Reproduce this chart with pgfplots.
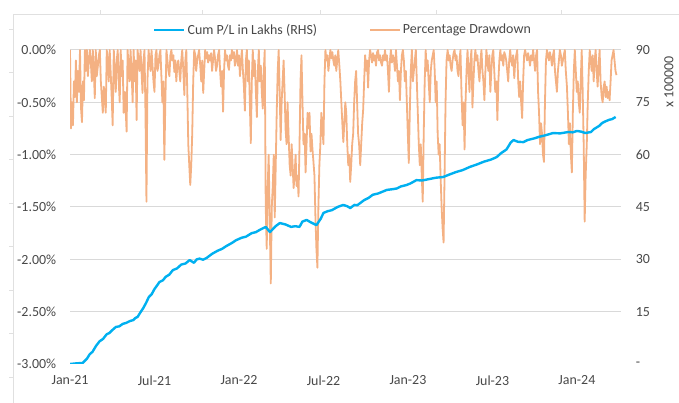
\documentclass[border=0pt]{standalone}
\usepackage{fontspec}
\setmainfont{Carlito}
\usepackage{pgfplots}
\pgfplotsset{compat=1.18}
\definecolor{ddorange}{HTML}{F4B183}
\definecolor{plblue}{HTML}{00B0F0}
\definecolor{gridgray}{HTML}{D9D9D9}
\definecolor{txt}{HTML}{484848}
\begin{document}
\fontsize{14}{16}\selectfont
\begin{tikzpicture}
\useasboundingbox (0,0) rectangle (679bp,403bp);
\draw[black!12, line width=0.8bp] (13bp,0) -- (13bp,389bp) -- (679bp,389bp);
\foreach \x in {100,202,320,436,561} \draw[black!12,line width=0.8bp] (\x bp,389bp) -- (\x bp,393bp);
\foreach \y in {26,70,113,157,200,244,287,331,374} \draw[black!12,line width=0.8bp] (13bp,\y bp) -- (9bp,\y bp);
\begin{axis}[
  at={(70bp,39bp)}, anchor=south west,
  width=551bp, height=314bp, scale only axis,
  xmin=0, xmax=39.13, ymin=-3, ymax=0,
  axis line style={draw=none},
  major tick length=0pt,
  ytick={-2.5,-2,-1.5,-1,-0.5,0},
  yticklabels={-2.50\%,-2.00\%,-1.50\%,-1.00\%,-0.50\%,0.00\%},
  extra y ticks={-3}, extra y tick labels={-3.00\%},
  extra y tick style={grid=none},
  ymajorgrids, grid style={gridgray, line width=1bp},
  xtick={0,6,12,18,24,30,36},
  xticklabels={Jan-21,Jul-21,Jan-22,Jul-22,Jan-23,Jul-23,Jan-24},
  tick label style={text=txt},
  yticklabel style={xshift=-9bp},
  xticklabel style={yshift=-7bp},
]
\addplot[ddorange, line width=1.8bp, line join=round] table {
0 0
0.07 -0.75
0.14 -0.5
0.21 -0.72
0.28 -0.3
0.35 -0.45
0.42 -0.1
0.49 -0.5
0.56 -0.2
0.64 -0.4
0.71 0
0.78 -0.55
0.85 -0.69
0.92 -0.3
0.99 -0.48
1.06 0
1.13 -0.2
1.20 0
1.27 -0.25
1.34 -0.1
1.41 0
1.48 -0.12
1.55 -0.3
1.62 0
1.69 -0.2
1.76 -0.46
1.83 0
1.90 -0.25
1.98 -0.15
2.05 -0.05
2.12 0
2.19 -0.3
2.33 -0.6
2.40 -0.35
2.54 -0.6
2.61 0
2.68 -0.1
2.75 -0.3
2.82 0
2.90 -0.25
2.96 -0.45
3.03 -0.72
3.11 0
3.18 -0.2
3.25 -0.4
3.32 -0.1
3.39 0
3.46 -0.3
3.53 -0.5
3.60 0
3.67 -0.25
3.74 -0.1
3.81 -0.6
3.90 -0.4
4.02 -0.78
4.09 0
4.16 -0.15
4.23 -0.3
4.30 0
4.37 -0.2
4.45 -0.5
4.52 0
4.59 -0.3
4.66 -0.1
4.73 -0.67
4.80 0
4.87 -0.1
4.94 -0.2
5.01 0
5.08 -0.2
5.15 -0.41
5.22 -0.1
5.29 0
5.36 -0.6
5.43 -1.45
5.50 -0.3
5.58 0
5.65 -0.1
5.72 -0.2
5.79 0
5.86 -0.15
5.93 -0.3
6.00 -0.4
6.07 -0.05
6.14 0
6.21 -0.2
6.28 -0.15
6.35 -0.05
6.42 0
6.49 -0.25
6.56 -0.5
6.63 -0.3
6.70 -1.05
6.77 -0.5
6.85 0
6.92 -0.1
6.99 -0.2
7.06 -0.25
7.13 -0.05
7.20 0
7.27 -0.1
7.34 -0.05
7.41 -0.21
7.48 -0.1
7.55 -0.3
7.62 -0.15
7.69 -0.1
7.76 -0.2
7.83 -0.3
7.90 -0.1
7.97 0
8.05 -0.2
8.12 -0.43
8.19 -0.1
8.26 0
8.33 -0.4
8.40 -0.9
8.47 -1.1
8.54 -1.29
8.61 -1.1
8.68 -0.8
8.75 -0.3
8.82 0
8.90 -0.05
8.96 -0.2
9.03 -0.1
9.10 -0.05
9.17 0
9.25 -0.15
9.32 -0.3
9.39 -0.1
9.46 -0.41
9.53 -0.2
9.60 0
9.67 -0.08
9.74 -0.02
9.81 -0.12
9.88 -0.05
9.95 -0.1
10.02 -0.03
10.09 -0.2
10.16 -0.1
10.23 0
10.30 -0.08
10.37 -0.2
10.44 -0.15
10.51 -0.05
10.59 0
10.66 -0.2
10.73 -0.35
10.80 -0.2
10.87 -0.59
10.94 -0.2
11.01 0
11.08 -0.1
11.15 -0.05
11.22 -0.15
11.29 -0.19
11.36 -0.05
11.43 -0.1
11.50 0
11.57 -0.08
11.64 -0.02
11.71 -0.15
11.78 -0.1
11.86 0
11.93 -0.15
12.00 -0.05
12.07 -0.25
12.14 -0.1
12.21 0
12.28 -0.2
12.35 -0.35
12.42 -0.58
12.49 -0.1
12.56 0
12.63 -0.3
12.70 -0.1
12.77 -0.5
12.84 -0.89
12.91 -0.3
12.98 0
13.05 -0.25
13.12 -0.1
13.20 -0.4
13.27 -0.64
13.34 -0.2
13.41 0
13.48 -0.3
13.55 -0.15
13.62 -0.4
13.69 -0.56
13.76 -0.2
13.83 0
13.90 -1.5
13.97 -1.9
14.04 -1.3
14.11 -1.0
14.18 -1.6
14.26 -2.23
14.33 -1.5
14.40 -1.3
14.47 -1.0
14.54 -1.6
14.61 -1.1
14.68 -0.6
14.75 -0.2
14.82 0
14.89 -0.4
14.96 -0.86
15.03 -0.5
15.10 -0.3
15.17 -0.1
15.24 -0.4
15.31 -0.76
15.38 -0.9
15.45 -0.5
15.52 -0.8
15.60 -1.1
15.67 -1.2
15.74 -0.9
15.81 -1.1
15.88 -1.32
15.95 -1.2
16.02 -1.0
16.09 -1.3
16.16 -1.2
16.23 -1.4
16.30 -0.9
16.37 -0.3
16.44 -0.05
16.51 -0.5
16.58 -0.9
16.66 -0.8
16.73 -1.17
16.80 -0.9
16.87 -0.6
16.94 -0.75
17.01 -0.6
17.08 -0.97
17.15 -0.8
17.22 -0.95
17.29 -1.07
17.36 -1.2
17.43 -1.6
17.50 -1.9
17.57 -2.08
17.64 -1.5
17.71 -1.1
17.78 -0.9
17.85 -0.6
17.92 -0.75
18.00 -0.9
18.07 -0.3
18.14 0
18.21 -0.1
18.28 -0.05
18.35 -0.2
18.42 -0.1
18.49 0
18.56 -0.08
18.63 -0.02
18.70 -0.1
18.77 -0.15
18.84 -0.05
18.91 -0.2
18.98 -0.1
19.05 0
19.13 -0.15
19.20 -0.3
19.27 -0.5
19.34 -0.7
19.41 -0.88
19.48 -0.7
19.55 -0.5
19.62 -0.6
19.69 -0.9
19.76 -1.1
19.83 -1.0
19.90 -1.26
19.97 -1.1
20.04 -0.9
20.11 -0.8
20.18 -0.5
20.25 -0.3
20.32 -0.2
20.39 -0.5
20.46 -0.8
20.53 -0.9
20.61 -1.1
20.68 -0.9
20.75 -0.7
20.82 -0.57
20.89 -0.3
20.96 -0.05
21.03 -0.2
21.10 -0.1
21.17 -0.36
21.24 -0.1
21.31 0
21.38 -0.05
21.45 -0.12
21.52 -0.03
21.59 -0.1
21.66 -0.05
21.73 -0.15
21.81 -0.02
21.88 0
21.95 -0.1
22.02 -0.05
22.09 -0.12
22.16 -0.15
22.23 -0.05
22.30 -0.1
22.37 0
22.44 -0.1
22.51 -0.05
22.58 -0.2
22.65 -0.4
22.72 -0.1
22.79 0
22.86 -0.12
22.94 -0.05
23.01 -0.1
23.08 -0.2
23.15 0
23.22 -0.15
23.29 -0.3
23.36 -0.2
23.43 -0.48
23.50 -0.2
23.57 -0.05
23.64 0
23.71 -0.1
23.78 -0.3
23.85 -0.2
23.92 -0.5
23.99 -0.8
24.06 -1.08
24.13 -0.6
24.20 -0.2
24.28 0
24.35 -0.3
24.42 -0.2
24.49 -0.1
24.56 0
24.63 -0.3
24.70 -0.6
24.77 -0.9
24.84 -1.1
24.91 -0.9
24.98 -1.2
25.05 -1.45
25.12 -0.8
25.19 -0.3
25.26 0
25.33 -0.2
25.40 -0.1
25.47 -0.3
25.55 -0.5
25.62 -0.2
25.69 -0.1
25.76 -0.05
25.83 0
25.90 -0.2
25.97 -0.5
26.04 -0.3
26.11 -0.8
26.18 -1.0
26.25 -0.9
26.32 -1.22
26.39 -1.5
26.46 -1.7
26.53 -1.84
26.60 -1.2
26.67 -0.5
26.74 -0.1
26.82 0
26.89 -0.1
26.96 -0.05
27.03 -0.15
27.10 -0.2
27.17 -0.1
27.24 -0.03
27.31 0
27.38 -0.1
27.45 -0.05
27.52 -0.2
27.59 -0.25
27.66 -0.1
27.73 0
27.80 -0.4
27.88 -0.72
27.95 -0.5
28.02 -0.95
28.09 -0.5
28.16 -0.2
28.23 0
28.30 -0.2
28.37 -0.4
28.44 -0.1
28.51 0
28.58 -0.55
28.65 -0.3
28.72 -0.1
28.79 0
28.86 -0.1
28.93 -0.05
29.01 -0.2
29.08 -0.3
29.15 -0.1
29.22 0
29.29 -0.2
29.36 -0.3
29.43 -0.48
29.50 -0.2
29.57 0
29.64 -0.1
29.71 -0.2
29.78 -0.05
29.85 -0.4
29.92 -0.2
29.99 -0.05
30.06 0
30.13 -0.2
30.20 -0.4
30.28 -0.3
30.35 -0.67
30.42 -0.3
30.49 -0.1
30.56 0
30.63 -0.1
30.70 -0.05
30.77 -0.15
30.84 -0.02
30.91 -0.05
30.98 -0.1
31.05 -0.2
31.12 -0.3
31.19 -0.1
31.26 0
31.33 -0.1
31.40 -0.15
31.47 -0.05
31.55 -0.27
31.62 -0.1
31.69 -0.05
31.76 0
31.83 -0.3
31.90 -0.45
31.97 -0.3
32.04 -0.5
32.11 -0.65
32.18 -0.3
32.25 -0.05
32.32 0
32.39 -0.05
32.46 -0.1
32.53 -0.03
32.60 -0.08
32.67 -0.15
32.74 -0.05
32.82 -0.1
32.89 0
32.96 -0.1
33.03 -0.2
33.10 -0.05
33.17 0
33.24 -0.4
33.31 -0.6
33.38 -0.9
33.45 -0.7
33.52 -0.8
33.59 -1.0
33.66 -1.07
33.73 -0.5
33.80 -0.1
33.87 0
33.94 -0.05
34.01 -0.1
34.08 -0.02
34.16 -0.08
34.23 -0.15
34.30 -0.05
34.37 0
34.44 -0.2
34.51 -0.3
34.58 -0.4
34.65 -0.2
34.72 -0.1
34.79 0
34.86 -0.05
34.93 -0.15
35.00 -0.1
35.07 -0.05
35.14 0
35.21 -0.2
35.29 -0.35
35.36 -0.6
35.43 -0.9
35.50 -0.7
35.57 -1.0
35.64 -1.17
35.71 -0.6
35.78 -0.2
35.85 0
35.92 -0.2
35.99 -0.4
36.06 -0.3
36.13 -0.5
36.20 -0.6
36.27 -0.3
36.34 0
36.41 -0.4
36.48 -0.9
36.55 -1.64
36.62 -1.2
36.70 -0.9
36.77 -0.5
36.84 -0.2
36.91 0
36.98 -0.1
37.05 -0.2
37.12 -0.05
37.19 -0.3
37.26 -0.1
37.33 0
37.40 -0.2
37.47 -0.35
37.54 -0.15
37.61 0
37.68 -0.3
37.76 -0.45
37.83 -0.5
37.90 -0.35
37.97 -0.3
38.04 -0.45
38.11 -0.35
38.18 -0.46
38.25 -0.4
38.32 -0.48
38.39 -0.3
38.46 -0.1
38.53 -0.05
38.60 0
38.67 -0.1
38.74 -0.2
38.81 -0.24
};
\end{axis}
\begin{axis}[
  at={(70bp,39bp)}, anchor=south west,
  width=551bp, height=314bp, scale only axis,
  xmin=0, xmax=39.13, ymin=0, ymax=90,
  axis line style={draw=none},
  major tick length=0pt,
  xtick=\empty,
  ytick={0,15,30,45,60,75,90},
  yticklabels={-,15,30,45,60,75,90},
  yticklabel pos=right,
  yticklabel style={anchor=west, xshift=10bp, text=txt},
  legend style={at={(0.4955,1.0637)}, anchor=center, draw=none, fill=none,
    legend columns=2, text=txt,
    /tikz/every even column/.append style={column sep=50bp}},
  legend image code/.code={\draw[#1] (0bp,0bp) -- (30bp,0bp);},
]
\addplot[plblue, line width=2.4bp, line join=round] table {
0 0
0.5 0.2
0.9 0.3
1.2 1.5
1.4 2.8
1.6 3.5
1.85 5.2
2.1 6.5
2.35 7.2
2.6 8.5
2.8 8.9
3.0 9.7
3.25 10.6
3.5 10.8
3.75 11.5
4.0 11.8
4.25 12.3
4.5 12.6
4.65 13.2
4.8 13.5
5.0 14.8
5.2 16
5.4 17.5
5.6 19.2
5.8 20.0
6.0 21.5
6.2 22.6
6.35 23.5
6.6 24.0
6.8 25
7.05 25.6
7.3 26.9
7.6 27.4
7.9 28.5
8.2 28.8
8.5 29.8
8.8 29.0
9.0 30.0
9.2 30.2
9.45 29.9
9.7 30.4
10.1 31.6
10.5 32.5
10.8 33.0
11.1 33.8
11.5 34.7
11.8 35.5
12.2 36.2
12.5 36.5
12.9 37.5
13.2 37.8
13.5 38.5
13.9 39.3
14.2 37.8
14.6 39.5
14.9 40.4
15.3 40.0
15.7 39.3
16.0 39.5
16.3 39.3
16.5 40.8
16.8 41.3
17.1 40.6
17.5 39.8
17.8 41.6
18.0 43.3
18.3 43.8
18.6 44.1
19.0 45
19.4 45.6
19.7 45.2
19.9 44.7
20.2 45.6
20.4 45.5
20.7 46.4
20.9 47
21.2 47.6
21.5 48.5
21.9 48.9
22.2 49.4
22.5 49.9
22.9 50.1
23.2 50.3
23.5 50.9
23.9 51.3
24.2 51.8
24.6 52.7
25.0 52.6
25.5 53
26.0 53.4
26.5 53.6
27.0 54.4
27.4 55
27.9 55.6
28.4 56.5
28.9 57.2
29.4 58
29.9 58.6
30.3 59.3
30.6 60.4
31.0 61.5
31.3 63.5
31.5 64.2
31.8 63.7
32.2 63.6
32.5 64.2
32.8 64.5
33.0 64.7
33.3 65.1
33.8 65.6
34.3 66.2
34.8 66.1
35.4 66.5
35.7 66.4
36.0 66.8
36.3 66.6
36.6 66.2
37.0 66.5
37.2 67.3
37.4 67.8
37.6 68.3
37.8 69.1
38.05 69.6
38.3 70
38.5 70.2
38.75 70.8
};
\addlegendentry{Cum P/L in Lakhs (RHS)}
\addlegendimage{ddorange, line width=1.8bp}
\addlegendentry{Percentage Drawdown}
\end{axis}
\node[rotate=90, text=txt] at (669bp,321bp) {x 100000};
\end{tikzpicture}
\end{document}
